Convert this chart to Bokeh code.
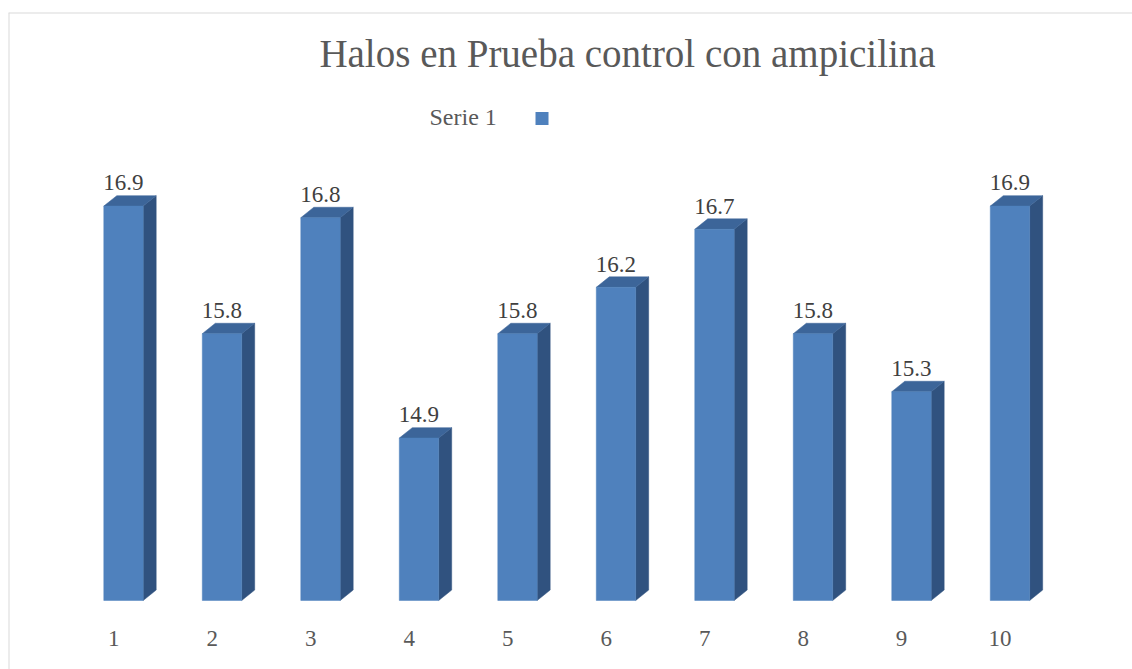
from bokeh.plotting import figure
from bokeh.models import Range1d, ColumnDataSource, Span
from bokeh.core.properties import value
from bokeh.embed import file_html
from bokeh.resources import INLINE

# ---- data ----
categories = ["1", "2", "3", "4", "5", "6", "7", "8", "9", "10"]
values = [16.9, 15.8, 16.8, 14.9, 15.8, 16.2, 16.7, 15.8, 15.3, 16.9]
value_labels = ["16.9", "15.8", "16.8", "14.9", "15.8", "16.2", "16.7", "15.8", "15.3", "16.9"]
series_name = "Serie 1"
title_text = "Halos en Prueba control con ampicilina"

# ---- layout / style ----
BASE = 13.5
W = 0.40      # front face width (category units)
DX = 0.132    # depth offset x
DY = 0.09     # depth offset y
FONT = "Liberation Serif"
FRONT = "#4F81BD"
TOP = "#3C6599"
SIDE = "#30527F"
BORDER = "#D9D9D9"

xs = list(range(1, len(categories) + 1))

xr = Range1d(-0.1675, 11.244)
yr = Range1d(12.905, 18.569)
p = figure(width=1132, height=669, output_backend="svg", toolbar_location=None,
           x_range=xr, y_range=yr,
           x_axis_location=None, y_axis_location=None,
           min_border_left=8, min_border_right=0, min_border_bottom=0, min_border_top=12)
p.grid.visible = False
p.outline_line_color = None
p.background_fill_color = "white"
p.border_fill_color = "white"

# chart-area border (left and top visible; right/bottom lie outside the window)
p.add_layout(Span(location=xr.start, dimension="height", line_color=BORDER, line_width=2))
p.add_layout(Span(location=yr.end, dimension="width", line_color=BORDER, line_width=2))

side_x, side_y, top_x, top_y = [], [], [], []
for x, v in zip(xs, values):
    r = x + W / 2
    l = x - W / 2
    side_x.append([r, r + DX, r + DX, r])
    side_y.append([BASE, BASE + DY, v + DY, v])
    top_x.append([l, l + DX, r + DX, r])
    top_y.append([v, v + DY, v + DY, v])

p.patches(side_x, side_y, fill_color=SIDE, line_color=SIDE, line_width=0.5)
p.patches(top_x, top_y, fill_color=TOP, line_color=TOP, line_width=0.5)
p.vbar(x=xs, top=values, bottom=BASE, width=W, fill_color=FRONT, line_color=FRONT, line_width=0.5)

# value labels
src = ColumnDataSource(dict(x=xs, y=[v + 0.20 for v in values], t=value_labels))
p.text(x="x", y="y", text="t", source=src, text_align="center", text_baseline="alphabetic",
       text_font=value(FONT), text_font_size="23px", text_color="#404040")

# category labels
csrc = ColumnDataSource(dict(x=[x - 0.1 for x in xs], y=[13.173] * len(xs), t=categories))
p.text(x="x", y="y", text="t", source=csrc, text_align="center", text_baseline="alphabetic",
       text_font=value(FONT), text_font_size="23px", text_color="#595959")

# title
p.text(x=[6.117], y=[18.216], text=[title_text], text_align="center", text_baseline="alphabetic",
       text_font=value(FONT), text_font_size="39px", text_color="#595959")

# legend
p.text(x=[4.107], y=[17.664], text=[series_name], text_align="left", text_baseline="alphabetic",
       text_font=value(FONT), text_font_size="24px", text_color="#595959")
p.rect(x=[5.249], y=[17.655], width=13, height=13, width_units="screen", height_units="screen",
       fill_color=FRONT, line_color=None)

open("out.html", "w").write(file_html(p, INLINE))
